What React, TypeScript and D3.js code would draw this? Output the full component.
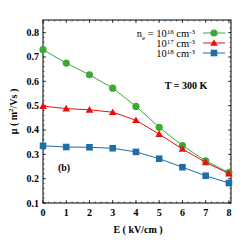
import React from "react";
import * as d3 from "d3";

const fields = [0, 1, 2, 3, 4, 5, 6, 7, 8];
const mu16 = [0.73, 0.675, 0.627, 0.572, 0.497, 0.411, 0.336, 0.273, 0.225];
const mu17 = [0.498, 0.488, 0.483, 0.473, 0.44, 0.383, 0.322, 0.267, 0.221];
const mu18 = [0.335, 0.33, 0.329, 0.325, 0.31, 0.282, 0.247, 0.212, 0.182];
const xTicks = [0, 1, 2, 3, 4, 5, 6, 7, 8];
const yTicks = [0.1, 0.2, 0.3, 0.4, 0.5, 0.6, 0.7, 0.8];

const series = [
  { exp: "16", values: mu16, color: "#3aaa35", marker: "circle", prefix: true },
  { exp: "17", values: mu17, color: "#e8100e", marker: "triangle", prefix: false },
  { exp: "18", values: mu18, color: "#1f6fa5", marker: "square", prefix: false },
];

const font = "'Liberation Serif', 'DejaVu Serif', serif";

const Marker = ({ type, x, y, color }) => {
  if (type === "circle") return <circle cx={x} cy={y} r={3.6} fill={color} />;
  if (type === "triangle") {
    const s = 3.8;
    return <path d={`M${x},${y - s} L${x + s},${y + s * 0.75} L${x - s},${y + s * 0.75}Z`} fill={color} />;
  }
  return <rect x={x - 3.3} y={y - 3.3} width={6.6} height={6.6} fill={color} />;
};

export default function App() {
  const left = 43, right = 231, top = 20, bottom = 203;
  const x = d3.scaleLinear().domain([0, 8.09]).range([left, right]);
  const y = d3.scaleLinear().domain([0.1, 0.852]).range([bottom, top]);
  const line = d3.line<number>().x((_, i) => x(fields[i])).y((d) => y(d));

  const xMinor = d3.range(0, 8.09, 0.25);
  const yMinor = d3.range(0.1, 0.85, 0.02);

  return (
    <svg width={245} height={245} style={{ position: "absolute", left: 0, top: 0 }}>
      <rect width={245} height={245} fill="#fff" />
      {/* minor ticks */}
      {xMinor.map((v, i) => (
        <g key={"xm" + i} stroke="#000" strokeWidth={0.6}>
          <line x1={x(v)} x2={x(v)} y1={bottom} y2={bottom - 1.5} />
          <line x1={x(v)} x2={x(v)} y1={top} y2={top + 1.5} />
        </g>
      ))}
      {yMinor.map((v, i) => (
        <g key={"ym" + i} stroke="#000" strokeWidth={0.6}>
          <line x1={left} x2={left + 1.5} y1={y(v)} y2={y(v)} />
          <line x1={right} x2={right - 1.5} y1={y(v)} y2={y(v)} />
        </g>
      ))}
      {xTicks.map((t) => (
        <g key={"x" + t}>
          <line x1={x(t)} x2={x(t)} y1={bottom} y2={bottom - 3} stroke="#000" strokeWidth={0.7} />
          <line x1={x(t)} x2={x(t)} y1={top} y2={top + 3} stroke="#000" strokeWidth={0.7} />
          <text x={x(t)} y={bottom + 13} textAnchor="middle" fontFamily={font} fontWeight="bold" fontSize={10}>
            {t}
          </text>
        </g>
      ))}
      {yTicks.map((t) => (
        <g key={"y" + t}>
          <line x1={left} x2={left + 3} y1={y(t)} y2={y(t)} stroke="#000" strokeWidth={0.7} />
          <line x1={right} x2={right - 3} y1={y(t)} y2={y(t)} stroke="#000" strokeWidth={0.7} />
          <text x={left - 4} y={y(t) + 3.5} textAnchor="end" fontFamily={font} fontWeight="bold" fontSize={10}>
            {t.toFixed(1)}
          </text>
        </g>
      ))}
      <rect x={left} y={top} width={right - left} height={bottom - top} fill="none" stroke="#000" strokeWidth={1} />

      {series.map((s) => (
        <g key={s.exp}>
          <path d={line(s.values) || ""} fill="none" stroke={s.color} strokeWidth={1} />
          {s.values.map((v, i) => (
            <Marker key={i} type={s.marker} x={x(fields[i])} y={y(v)} color={s.color} />
          ))}
        </g>
      ))}

      {/* legend */}
      {series.map((s, i) => {
        const ly = 33 + i * 10;
        return (
          <g key={"lg" + s.exp}>
            <text x={195} y={ly + 4} textAnchor="end" fontFamily={font} fontSize={10.5}>
              {s.prefix ? (
                <>
                  <tspan>n</tspan>
                  <tspan fontSize={7} dy={2.5}>e</tspan>
                  <tspan dy={-2.5}> = 10</tspan>
                </>
              ) : (
                <tspan>10</tspan>
              )}
              <tspan fontSize={7} dy={-3.5}>{s.exp}</tspan>
              <tspan dy={3.5}> cm</tspan>
              <tspan fontSize={7} dy={-3.5}>-3</tspan>
            </text>
            <line x1={203} x2={225} y1={ly} y2={ly} stroke={s.color} strokeWidth={1} />
            <Marker type={s.marker} x={214} y={ly} color={s.color} />
          </g>
        );
      })}

      <text x={186} y={89} textAnchor="middle" fontFamily={font} fontWeight="bold" fontSize={10}>
        T = 300 K
      </text>
      <text x={64} y={171} textAnchor="middle" fontFamily={font} fontWeight="bold" fontSize={10}>
        (b)
      </text>
      <text x={138} y={233} textAnchor="middle" fontFamily={font} fontWeight="bold" fontSize={10}>
        E ( kV/cm )
      </text>
      <text transform={`translate(17,${(top + bottom) / 2}) rotate(-90)`} textAnchor="middle" fontFamily={font} fontWeight="bold" fontSize={10}>
        <tspan>μ ( m</tspan>
        <tspan fontSize={7} dy={-4}>2</tspan>
        <tspan dy={4}>/Vs )</tspan>
      </text>
    </svg>
  );
}
